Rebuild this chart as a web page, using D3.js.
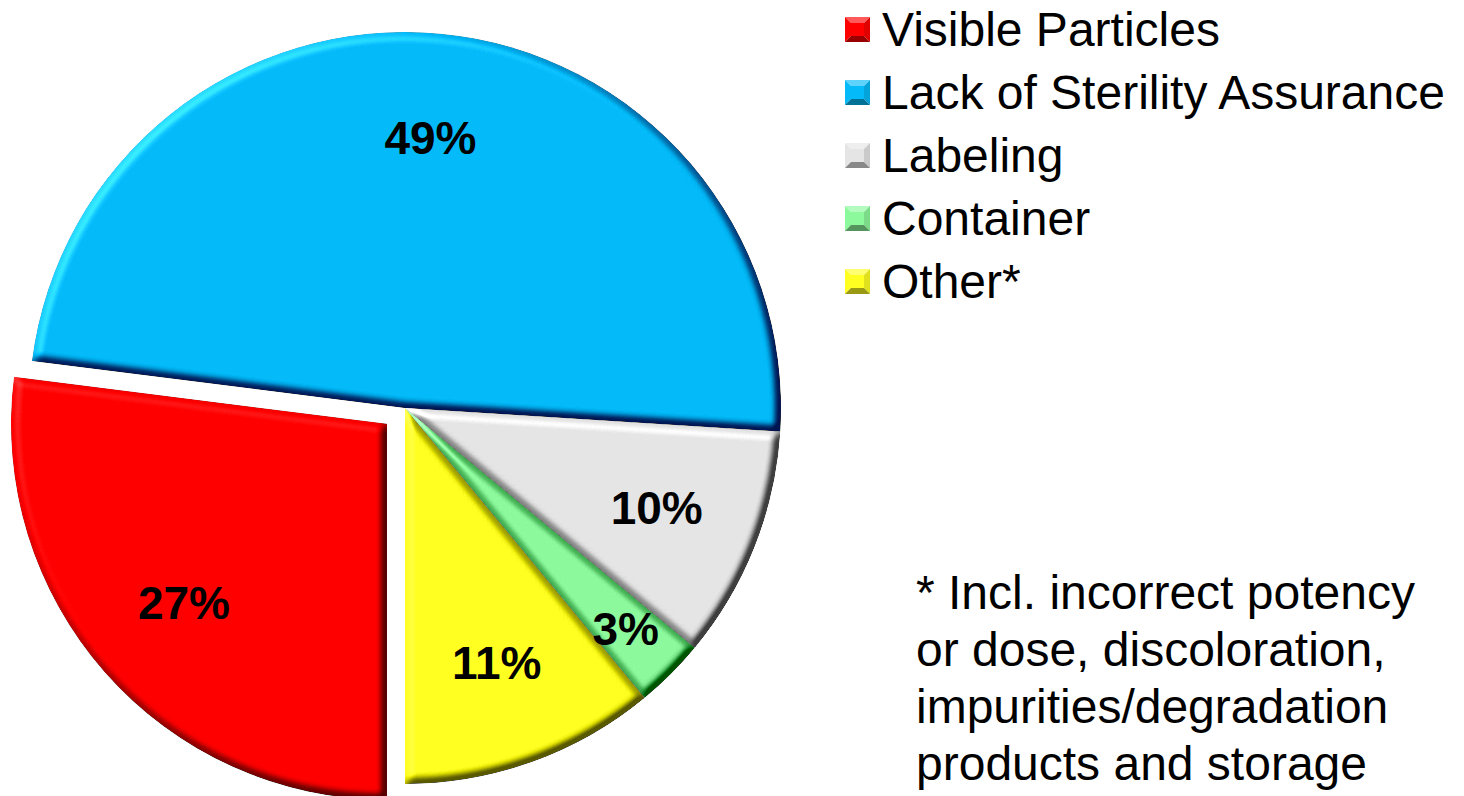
<!DOCTYPE html>
<html>
<head>
<meta charset="utf-8">
<script src="https://cdn.jsdelivr.net/npm/d3@7"></script>
<style>
  body { margin: 0; background: #fff; }
  text { font-family: Arial, "Liberation Sans", sans-serif; }
</style>
</head>
<body>
<div id="canvas"></div>
<script>
const categories = ["Visible Particles", "Lack of Sterility Assurance", "Labeling", "Container", "Other*"];
const shares = [27, 49, 10, 3, 11];
const colors = ["#ff0000", "#05baf8", "#e5e5e5", "#8cf99c", "#ffff22"];
const explodedIndex = 0;
const footnoteLines = [
  "* Incl. incorrect potency",
  "or dose, discoloration,",
  "impurities/degradation",
  "products and storage"
];

const width = 1464;
const height = 796;
const cx = 405, cy = 408, radius = 376;
const explode = 24;

const svg = d3.select("#canvas").append("svg")
  .attr("width", width)
  .attr("height", height);

// bevel look: light from top-left on a blurred alpha surface
const defs = svg.append("defs");
function bevelFilter(id, blur, scale, amount) {
  const f = defs.append("filter").attr("id", id)
    .attr("x", "-10%").attr("y", "-10%").attr("width", "120%").attr("height", "120%")
    .attr("color-interpolation-filters", "sRGB");
  f.append("feGaussianBlur").attr("in", "SourceAlpha").attr("stdDeviation", blur).attr("result", "blur");
  f.append("feDiffuseLighting").attr("in", "blur").attr("surfaceScale", scale)
    .attr("diffuseConstant", 1).attr("lighting-color", "#fff").attr("result", "light")
    .append("feDistantLight").attr("azimuth", 225).attr("elevation", 50);
  f.append("feComposite").attr("in", "SourceGraphic").attr("in2", "light")
    .attr("operator", "arithmetic").attr("k1", 0).attr("k2", 1).attr("k3", amount)
    .attr("k4", -amount * Math.sin(50 * Math.PI / 180)).attr("result", "lit");
  f.append("feComposite").attr("in", "lit").attr("in2", "SourceAlpha").attr("operator", "in");
}
bevelFilter("bevel", 4.5, 10, 0.85);

const pie = d3.pie().sort(null).value((d) => d)
  .startAngle(Math.PI).endAngle(3 * Math.PI);
const arcs = pie(shares);

const arc = d3.arc().innerRadius(0).outerRadius(radius);

function offset(d, i) {
  if (i !== explodedIndex) return [0, 0];
  const a = (d.startAngle + d.endAngle) / 2;
  return [explode * Math.sin(a), -explode * Math.cos(a)];
}

const g = svg.append("g").attr("transform", `translate(${cx},${cy})`);

g.selectAll("path.slice")
  .data(arcs)
  .enter()
  .append("path")
  .attr("class", "slice")
  .attr("d", arc)
  .attr("fill", (d, i) => colors[i])
  .attr("filter", "url(#bevel)")
  .attr("transform", (d, i) => `translate(${offset(d, i)})`);

// percentage labels, small slices sit further out
g.selectAll("text.pct")
  .data(arcs)
  .enter()
  .append("text")
  .attr("class", "pct")
  .attr("transform", (d, i) => {
    const r = d.data < 5 ? radius * 0.83 : radius * 0.72;
    const c = d3.arc().innerRadius(r).outerRadius(r).centroid(d);
    const o = offset(d, i);
    return `translate(${c[0] + o[0]},${c[1] + o[1]})`;
  })
  .attr("text-anchor", "middle")
  .attr("dy", 16)
  .style("font-size", "46px")
  .style("font-weight", "bold")
  .attr("fill", "#000")
  .text((d) => d.data + "%");

// legend
const legend = svg.append("g").attr("transform", "translate(845,17)");
const sw = 25, step = 63;
const items = legend.selectAll("g").data(categories).enter().append("g")
  .attr("transform", (d, i) => `translate(0,${i * step})`);

items.each(function (d, i) {
  const s = d3.select(this);
  const c = colors[i];
  const light = d3.interpolateRgb(c, "#fff")(0.35);
  const mid = d3.interpolateRgb(c, "#000")(0.12);
  const dark = d3.interpolateRgb(c, "#000")(0.4);
  const m = sw / 2;
  const tris = [
    { p: [[0, 0], [sw, 0], [m, m]], f: light },
    { p: [[0, 0], [0, sw], [m, m]], f: c },
    { p: [[sw, 0], [sw, sw], [m, m]], f: mid },
    { p: [[0, sw], [sw, sw], [m, m]], f: dark }
  ];
  s.selectAll("path").data(tris).enter().append("path")
    .attr("d", (t) => "M" + t.p.join("L") + "Z")
    .attr("fill", (t) => t.f);
  s.append("rect").attr("x", 6).attr("y", 6).attr("width", sw - 12).attr("height", sw - 12).attr("fill", c);
});

items.append("text")
  .attr("x", 37)
  .attr("y", sw / 2 + 16)
  .style("font-size", "48px")
  .attr("fill", "#000")
  .text((d) => d);

// footnote
svg.append("g")
  .selectAll("text")
  .data(footnoteLines)
  .enter()
  .append("text")
  .attr("x", 916)
  .attr("y", (d, i) => 609 + i * 57)
  .style("font-size", "48px")
  .attr("fill", "#000")
  .text((d) => d);
</script>
</body>
</html>
